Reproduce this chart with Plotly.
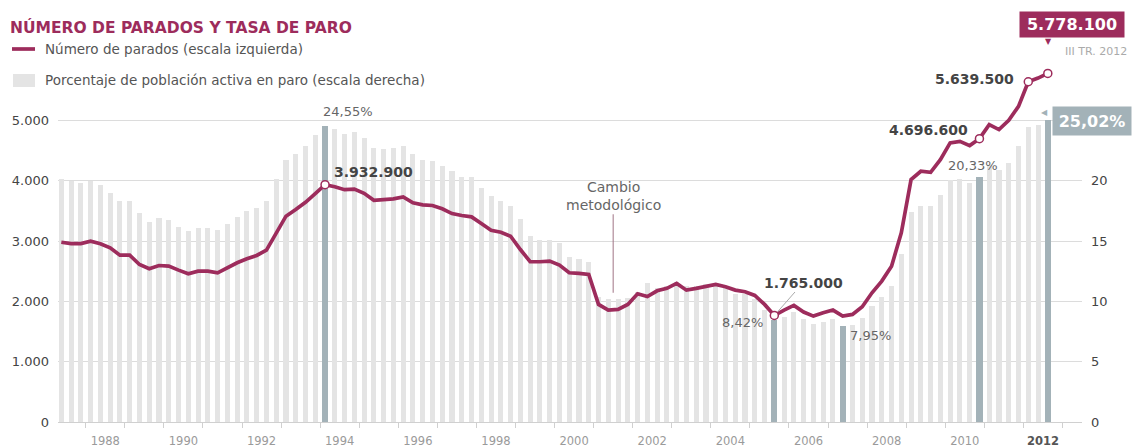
import plotly.graph_objects as go

# ---------------- data (EPA, quarterly, 1987-T2 .. 2012-T3) ----------------
START_YEAR, START_Q = 1987, 2

# Número de parados, miles (escala izquierda)
parados = [
    2980, 2958, 2958,
    2997, 2954, 2887, 2765,
    2765, 2611, 2540, 2594,
    2583, 2517, 2457, 2500,
    2500, 2473, 2556, 2639,
    2705, 2760, 2848, 3136,
    3411, 3522, 3642, 3786,
    3932.9, 3900, 3850, 3860,
    3790, 3675, 3687, 3699,
    3732, 3632, 3599, 3588,
    3533, 3455, 3422, 3400,
    3290, 3179, 3146, 3079,
    2859, 2656, 2656, 2666,
    2600, 2473, 2462, 2445,
    1949, 1854, 1866, 1949,
    2125, 2080, 2175, 2215,
    2296, 2185, 2214, 2241,
    2280, 2241, 2186, 2158,
    2098, 1949, 1765.0, 1855,
    1932, 1822, 1755, 1811,
    1855, 1755, 1783, 1910,
    2142, 2335, 2583, 3135,
    4018, 4156, 4139, 4349,
    4626, 4652, 4581, 4696.6,
    4929, 4846, 5000, 5232,
    5639.5, 5700, 5778.1,
]

# Porcentaje de población activa en paro (escala derecha)
tasa = [
    20.1, 19.95, 19.8,
    20.0, 19.6, 19.0, 18.3,
    18.3, 17.3, 16.6, 16.9,
    16.7, 16.2, 15.8, 16.1,
    16.1, 15.9, 16.4, 17.0,
    17.5, 17.7, 18.3, 20.1,
    21.7, 22.2, 22.9, 23.8,
    24.55, 24.3, 23.9, 24.0,
    23.5, 22.7, 22.6, 22.7,
    22.85, 22.2, 21.7, 21.6,
    21.25, 20.8, 20.3, 20.3,
    19.4, 18.7, 18.3, 17.9,
    16.8, 15.4, 15.1, 15.1,
    14.8, 13.7, 13.5, 13.3,
    10.4, 10.2, 10.2, 10.3,
    10.8, 11.5, 11.1, 11.3,
    11.6, 11.3, 11.3, 11.4,
    11.5, 11.1, 10.6, 10.6,
    10.2, 9.3, 8.42, 8.7,
    9.1, 8.5, 8.15, 8.3,
    8.5, 7.95, 8.0, 8.6,
    9.6, 10.4, 11.3, 13.9,
    17.4, 17.9, 17.9, 18.8,
    20.05, 20.1, 19.8, 20.33,
    21.3, 20.9, 21.5, 22.85,
    24.45, 24.65, 25.02,
]

highlight_bars = ["1994-T1", "2005-T3", "2007-T2", "2010-T4", "2012-T3"]
marked_points = ["1994-T1", "2005-T3", "2010-T4", "2012-T1", "2012-T3"]
year_labels = list(range(1988, 2013, 2))
left_ticks = [0, 1000, 2000, 3000, 4000, 5000]
right_ticks = [0, 5, 10, 15, 20, 25]
right_ticktext = ["0", "5", "10", "15", "20", ""]   # 25 is covered by the 25,02% box

TITLE = "NÚMERO DE PARADOS Y TASA DE PARO"
LEG_LINE = "Número de parados (escala izquierda)"
LEG_BAR = "Porcentaje de población activa en paro (escala derecha)"

# ---------------- categories -> positions ----------------
quarters = []
yy, qq = START_YEAR, START_Q
for _ in range(len(parados)):
    quarters.append((yy, qq))
    qq += 1
    if qq > 4:
        qq, yy = 1, yy + 1
labels = [f"{a}-T{b}" for a, b in quarters]
xpos = [a + (b - 1) / 4 + 0.125 for a, b in quarters]
ix = {lab: i for i, lab in enumerate(labels)}

MAROON = "#9d2c5c"
SLATE = "#a3b2b8"
BARGREY = "#e4e4e4"
FONT = "DejaVu Sans"

W, H = 1132, 447
ML, MR, MT, MB = 58, 50, 60, 25
PW, PH = W - ML - MR, H - MT - MB


def px(x):
    return (x - ML) / PW


def py(y):
    return (H - MB - y) / PH


bar_colors = [SLATE if lab in highlight_bars else BARGREY for lab in labels]
bar_widths = [0.16 if lab in highlight_bars else 0.13 for lab in labels]

fig = go.Figure()

fig.add_trace(go.Bar(
    x=xpos, y=tasa, width=bar_widths, yaxis="y",
    marker=dict(color=bar_colors, line=dict(width=0)),
    name=LEG_BAR, showlegend=False,
))

fig.add_trace(go.Scatter(
    x=xpos, y=parados, yaxis="y2", mode="lines",
    line=dict(color=MAROON, width=3.7),
    name=LEG_LINE, showlegend=False,
))

mi = [ix[l] for l in marked_points]
fig.add_trace(go.Scatter(
    x=[xpos[i] for i in mi], y=[parados[i] for i in mi], yaxis="y2",
    mode="markers", showlegend=False,
    marker=dict(size=8, color="white", line=dict(color=MAROON, width=1.5)),
))


def fmt_thousands(v):
    return f"{int(round(v * 1000)):,}".replace(",", ".")


def fmt_pct(v):
    return f"{v:.2f}".replace(".", ",") + "%"


ann = []
grey = dict(family=FONT, size=13, color="#666666")
bold = dict(family=FONT, size=14, color="#444444")

i = ix["1994-T1"]
ann.append(dict(x=xpos[i], y=tasa[i], yref="y", text=fmt_pct(tasa[i]), showarrow=False,
                xanchor="left", yanchor="bottom", xshift=-4, yshift=5, font=grey))
ann.append(dict(x=xpos[i], y=parados[i], yref="y2", text="<b>" + fmt_thousands(parados[i]) + "</b>",
                showarrow=False, xanchor="left", yanchor="middle", xshift=7, yshift=13, font=bold))

a, b = ix["2001-T2"], ix["2001-T3"]
ann.append(dict(x=(xpos[a] + xpos[b]) / 2, y=(parados[a] + parados[b]) / 2, yref="y2",
                text="Cambio<br>metodológico", showarrow=True, arrowhead=0, arrowwidth=1,
                arrowcolor="#a07484", ax=0, ay=-114, standoff=17,
                font=dict(family=FONT, size=14, color="#666666")))

i = ix["2005-T3"]
ann.append(dict(x=xpos[i], y=parados[i], yref="y2", text="<b>" + fmt_thousands(parados[i]) + "</b>",
                showarrow=True, arrowhead=0, arrowwidth=1, arrowcolor="#aaaaaa",
                ax=29, ay=-33, standoff=5, font=bold))
ann.append(dict(x=xpos[i], y=tasa[i], yref="y", text=fmt_pct(tasa[i]), showarrow=False,
                xanchor="right", yanchor="middle", xshift=-9, yshift=-2, font=grey))

i = ix["2007-T2"]
ann.append(dict(x=xpos[i], y=tasa[i], yref="y", text=fmt_pct(tasa[i]), showarrow=False,
                xanchor="left", yanchor="middle", xshift=5, yshift=-9.5, font=grey))

i = ix["2010-T4"]
ann.append(dict(x=xpos[i], y=tasa[i], yref="y", text=fmt_pct(tasa[i]), showarrow=False,
                xanchor="center", yanchor="bottom", xshift=-6, yshift=2, font=grey))
ann.append(dict(x=xpos[i], y=parados[i], yref="y2", text="<b>" + fmt_thousands(parados[i]) + "</b>",
                showarrow=False, xanchor="right", yanchor="middle", xshift=-9, yshift=9, font=bold))

i = ix["2012-T1"]
ann.append(dict(x=xpos[i], y=parados[i], yref="y2", text="<b>" + fmt_thousands(parados[i]) + "</b>",
                showarrow=False, xanchor="right", yanchor="middle", xshift=-12, yshift=2.5, font=bold))

i = ix["2012-T3"]
ann.append(dict(x=xpos[i], y=parados[i], yref="y2", text="<b>" + fmt_thousands(parados[i]) + "</b>",
                showarrow=False, xanchor="center", yanchor="middle", xshift=24, yshift=48.4,
                bgcolor=MAROON, borderpad=4, width=96, height=17,
                font=dict(family=FONT, size=16, color="white")))
ann.append(dict(x=xpos[i], y=parados[i], yref="y2", text="▼", showarrow=False,
                xanchor="center", yanchor="middle", xshift=1, yshift=32,
                font=dict(family=FONT, size=8, color=MAROON)))
ann.append(dict(x=xpos[i], y=parados[i], yref="y2", text="III TR. 2012", showarrow=False,
                xanchor="left", yanchor="middle", xshift=15, yshift=21.7,
                font=dict(family=FONT, size=11, color="#aaaaaa")))
ann.append(dict(x=xpos[i], y=tasa[i], yref="y", text="<b>" + fmt_pct(tasa[i]) + "</b>",
                showarrow=False, xanchor="center", yanchor="middle", xshift=44.6, yshift=-0.7,
                bgcolor=SLATE, borderpad=4, width=70, height=20,
                font=dict(family=FONT, size=16, color="white")))
ann.append(dict(x=xpos[i], y=tasa[i], yref="y", text="◀", showarrow=False,
                xanchor="center", yanchor="middle", xshift=-3, yshift=8,
                font=dict(family=FONT, size=8, color=SLATE)))

for a_ in ann:
    a_.setdefault("xref", "x")

# legend (drawn manually to match the original's placement)
legend_font = dict(family=FONT, size=13.5, color="#555555")
ann.append(dict(xref="paper", yref="paper", x=px(43), y=py(49), text=LEG_LINE,
                showarrow=False, xanchor="left", yanchor="middle", font=legend_font))
ann.append(dict(xref="paper", yref="paper", x=px(43), y=py(80), text=LEG_BAR,
                showarrow=False, xanchor="left", yanchor="middle", font=legend_font))
shapes = [
    dict(type="line", xref="paper", yref="paper", x0=px(12), x1=px(35), y0=py(49), y1=py(49),
         line=dict(color=MAROON, width=3.7)),
    dict(type="rect", xref="paper", yref="paper", x0=px(13), x1=px(35), y0=py(87), y1=py(74),
         fillcolor=BARGREY, line=dict(width=0)),
]

ticktext = [f"<b><span style='color:#555555'>{y}</span></b>" if y == 2012 else str(y) for y in year_labels]

fig.update_layout(
    width=W, height=H, autosize=False,
    margin=dict(l=ML, r=MR, t=MT, b=MB, pad=0),
    paper_bgcolor="white", plot_bgcolor="white",
    separators=",.",
    bargap=0, barmode="overlay",
    showlegend=False,
    title=dict(text="<b>" + TITLE + "</b>",
               x=10 / W, xanchor="left", y=1 - 28 / H, yanchor="middle",
               font=dict(family=FONT, size=15.5, color=MAROON)),
    xaxis=dict(range=[1987.29, 2013.5], tickmode="array",
               tickvals=[y + 0.5 for y in year_labels], ticktext=ticktext,
               ticks="", showgrid=False, zeroline=False, automargin=False,
               showline=True, linecolor="#d0d0d0", linewidth=1,
               tickfont=dict(family=FONT, size=11.5, color="#9a9a9a"),
               ticklabelstandoff=8,
               minor=dict(tickmode="linear", tick0=1988, dtick=1, ticks="outside",
                          ticklen=5, tickcolor="#d0d0d0", showgrid=False)),
    yaxis=dict(range=[0, 30], side="right", tickmode="array", tickvals=right_ticks,
               ticktext=right_ticktext, automargin=False,
               showgrid=True, gridcolor="#dcdcdc", gridwidth=1, zeroline=False,
               tickfont=dict(family=FONT, size=13, color="#444444"),
               ticklabelstandoff=8),
    yaxis2=dict(range=[0, 6000], side="left", overlaying="y", tickmode="array",
                tickvals=left_ticks, tickformat=",d", showgrid=False, zeroline=False,
                automargin=False,
                tickfont=dict(family=FONT, size=13, color="#444444"),
                ticklabelstandoff=8),
    annotations=ann,
    shapes=shapes,
)

fig.write_html("out.html", config={"displayModeBar": False},
               post_script="document.body.style.margin='0';")
